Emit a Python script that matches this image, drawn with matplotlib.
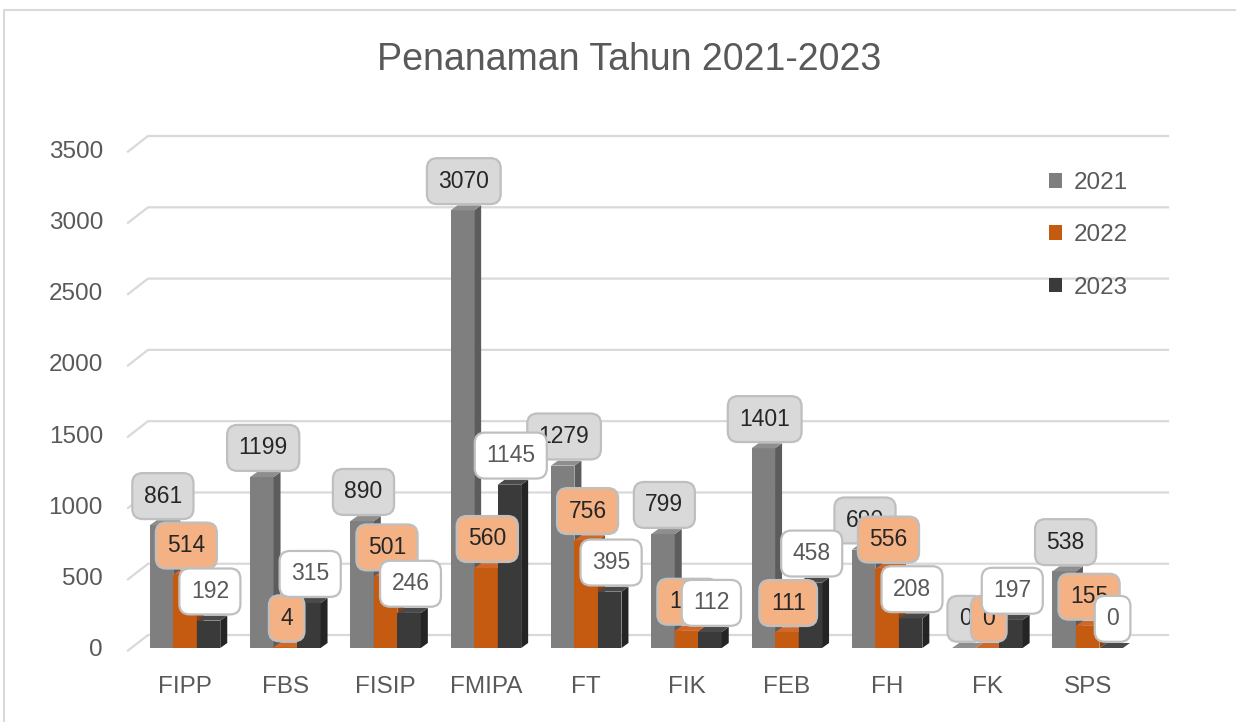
import matplotlib.pyplot as plt
from matplotlib.patches import Polygon, Patch
from matplotlib.lines import Line2D

# values
categories = ['FIPP', 'FBS', 'FISIP', 'FMIPA', 'FT', 'FIK', 'FEB', 'FH', 'FK', 'SPS']
years = ['2021', '2022', '2023']
val_2021 = [861, 1199, 890, 3070, 1279, 799, 1401, 690, 0, 538]
val_2022 = [514, 4, 501, 560, 756, 120, 111, 556, 0, 155]
val_2023 = [192, 315, 246, 1145, 395, 112, 458, 208, 197, 0]
series = [val_2021, val_2022, val_2023]

front = ['#7f7f7f', '#c55a11', '#3a3a3a']
side = ['#5c5c5c', '#933f0a', '#242424']
top = ['#8e8e8e', '#d0682a', '#4a4a4a']
label_fill = ['#d9d9d9', '#f4b183', '#ffffff']
label_text = ['#262626', '#262626', '#595959']
grey_txt = '#595959'

plt.rcParams['font.family'] = ['Liberation Sans', 'DejaVu Sans']

W, H = 1236, 722
fig = plt.figure(figsize=(W / 100, H / 100), dpi=100)
ax = fig.add_axes([128 / W, (H - 648) / H, (1168 - 128) / W, (648 - 149) / H])

px_x = 100.3            # pixels per category
px_y = 499 / 3500       # pixels per unit
ax.set_xlim((128 - 185) / px_x, (1168 - 185) / px_x)
ax.set_ylim(0, 3500)

# back-wall gridlines with the little 3D side-wall slant
x0, x1 = ax.get_xlim()
for v in range(0, 3501, 500):
    ax.plot([x0, x0 + 20 / px_x, x1], [v - 18, v + 91, v + 91],
            color='#d9d9d9', lw=1.6, clip_on=False, zorder=0)

w = 23.5 / px_x
dx = 7 / px_x
dy = 5 / px_y
offsets = [-w, 0, w]

for s, vals in enumerate(series):
    xs = [i + offsets[s] for i in range(len(categories))]
    ax.bar(xs, vals, width=w, color=front[s], zorder=2 + s, label=years[s])
    for x, v in zip(xs, vals):
        l, r = x - w / 2, x + w / 2
        ax.add_patch(Polygon([(r, 0), (r + dx, dy), (r + dx, v + dy), (r, v)],
                             closed=True, fc=side[s], ec='none', zorder=2 + s))
        ax.add_patch(Polygon([(l, v), (l + dx, v + dy), (r + dx, v + dy), (r, v)],
                             closed=True, fc=top[s], ec='none', zorder=2 + s))

# data labels (2023 above 2022 above 2021)
for s, vals in enumerate(series):
    for i, v in enumerate(vals):
        ax.annotate(str(v), xy=(i + offsets[s], v), xytext=(1, 21),
                    textcoords='offset points', ha='center', va='center',
                    fontsize=16.5, color=label_text[s], zorder=10 + s,
                    annotation_clip=False,
                    bbox=dict(boxstyle='round,pad=0.5,rounding_size=0.45',
                              fc=label_fill[s], ec='#bfbfbf', lw=1.6))

ax.set_yticks(range(0, 3501, 500))
ax.set_xticks(range(len(categories)))
ax.set_xticklabels(categories)
ax.tick_params(axis='y', length=0, pad=18, labelsize=17.5, labelcolor=grey_txt)
ax.tick_params(axis='x', length=0, pad=20, labelsize=17.5, labelcolor=grey_txt)
for sp in ax.spines.values():
    sp.set_visible(False)
ax.patch.set_alpha(0)

fig.text(629 / W, 1 - 60 / H, 'Penanaman Tahun 2021-2023', ha='center', va='center',
         fontsize=27, color=grey_txt)

handles = [Patch(fc=front[s], ec='none') for s in range(3)]
fig.legend(handles, years, loc='upper left', bbox_to_anchor=(1049 / W, 1 - 172 / H),
           frameon=False, fontsize=17.5, labelcolor=grey_txt, borderaxespad=0, borderpad=0,
           handlelength=0.55, handleheight=0.55, handletextpad=0.45, labelspacing=1.25)

# chart area border
fig.add_artist(Line2D([4 / W, 4 / W, 1], [0, 1 - 10 / H, 1 - 10 / H],
                      transform=fig.transFigure, color='#d9d9d9', lw=1.5))

fig.savefig('out.png', dpi=100)
